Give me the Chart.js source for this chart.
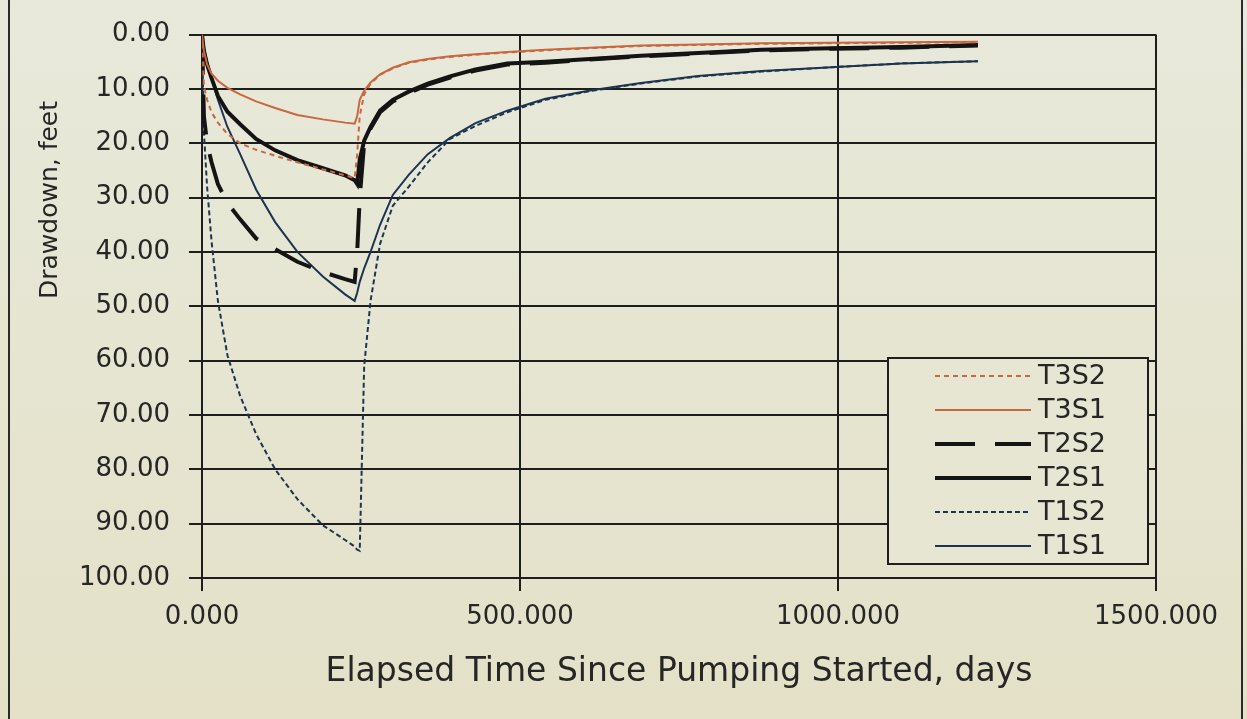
<!DOCTYPE html>
<html>
<head>
<meta charset="utf-8">
<script src="https://cdn.jsdelivr.net/npm/chart.js@4.4.1/dist/chart.umd.min.js"></script>
<style>
  html, body { margin: 0; padding: 0; background: #e5e5d3; }
  #wrap { width: 1247px; height: 719px; position: relative; }
</style>
</head>
<body>
<div id="wrap"><canvas id="drawdown"></canvas></div>
<script>
// elapsed time (days) shared by every series, pumping stops near day 240
const days = [0, 3, 8, 15, 25, 40, 60, 85, 115, 150, 190, 225, 240, 244, 248, 255,
  265, 280, 300, 325, 355, 390, 430, 480, 540, 610, 690, 780, 880, 990, 1100, 1220];

// drawdown, feet
const t3s2 = [0, 9.5, 12, 14.3, 16.2, 18.3, 20, 21.2, 22.3, 23.5, 24.8, 25.9, 26.4, 22, 15, 11,
  9, 7.4, 6.2, 5.2, 4.6, 4.1, 3.7, 3.3, 2.9, 2.5, 2.1, 1.9, 1.7, 1.6, 1.5, 1.4];
const t3s1 = [0, 3, 5.5, 7.2, 8.5, 9.8, 11, 12.3, 13.5, 14.8, 15.6, 16.2, 16.4, 15, 12, 10.3,
  8.8, 7.3, 6.1, 5.1, 4.5, 4, 3.6, 3.2, 2.8, 2.4, 2.0, 1.8, 1.6, 1.5, 1.4, 1.3];
const t2s2 = [0, 15, 20, 23.5, 27.5, 31, 34, 37.5, 39.5, 41.8, 43.7, 45, 45.5, 40, 30, 20,
  17.3, 14.3, 12.3, 10.8, 9.2, 7.9, 6.6, 5.5, 5.2, 4.6, 4.0, 3.5, 2.9, 2.6, 2.4, 2.0];
const t2s1 = [0, 3, 5.5, 8, 11.3, 14.2, 16.5, 19.2, 21.3, 23.1, 24.6, 25.9, 26.8, 27.5, 23, 19.5,
  17, 14, 12, 10.5, 9, 7.7, 6.4, 5.3, 5.0, 4.5, 3.9, 3.4, 2.8, 2.5, 2.3, 1.9];
const t1s2 = [0, 18, 28, 38, 49, 59, 66.5, 73.5, 80, 85.5, 90.3, 93, 94.2, 94.8, 95, 61,
  49, 38.5, 31.5, 28, 23.5, 19.2, 16.8, 14.3, 12, 10.4, 9, 7.7, 6.8, 6.0, 5.3, 4.9];
const t1s1 = [0, 2.2, 5, 8, 12, 17, 22, 28.5, 34.5, 40, 44.5, 47.8, 49, 47.5, 45.5, 43,
  40, 35, 29.5, 25.8, 22, 19, 16.3, 14, 11.8, 10.3, 8.9, 7.6, 6.7, 6.0, 5.3, 4.9];

const xTicks = [0, 500, 1000, 1500];
const yTicks = [0, 10, 20, 30, 40, 50, 60, 70, 80, 90, 100];

const ORANGE = "#c9673f";
const NAVY = "#1d3450";
const BLACK = "#141414";
const INK = "#262626";
const FONT = "DejaVu Sans";

function series(label, values, color, width, dash) {
  return {
    label,
    data: days.map((d, i) => ({ x: d, y: values[i] })),
    borderColor: color,
    borderWidth: width,
    borderDash: dash,
    pointRadius: 0,
    tension: 0,
    fill: false,
  };
}

// photo-ish background + outer frame
const backdrop = {
  id: "backdrop",
  beforeDraw(chart) {
    const { ctx, width, height } = chart;
    const g = ctx.createLinearGradient(0, 0, 0, height);
    g.addColorStop(0, "#e8e9db");
    g.addColorStop(1, "#e4e1c8");
    ctx.save();
    ctx.fillStyle = g;
    ctx.fillRect(0, 0, width, height);
    ctx.strokeStyle = "#2a2a2a";
    ctx.lineWidth = 2;
    ctx.beginPath();
    ctx.moveTo(9, 0); ctx.lineTo(9, height);
    ctx.moveTo(1242, 0); ctx.lineTo(1242, height);
    ctx.stroke();
    ctx.restore();
  }
};

// y title sits above the axis middle in the original, so it is drawn by hand
const yTitle = {
  id: "yTitle",
  afterDraw(chart) {
    const { ctx } = chart;
    ctx.save();
    ctx.translate(50, 200);
    ctx.rotate(-Math.PI / 2);
    ctx.font = `25px "${FONT}"`;
    ctx.fillStyle = INK;
    ctx.textAlign = "center";
    ctx.textBaseline = "middle";
    ctx.fillText("Drawdown, feet", 0, 0);
    ctx.restore();
  }
};

// boxed legend inside the plot, bottom right
const boxLegend = {
  id: "boxLegend",
  afterDraw(chart) {
    const { ctx } = chart;
    const left = 888, top = 358, right = 1148, bottom = 564;
    ctx.save();
    ctx.fillStyle = "#e7e6d2";
    ctx.fillRect(left, top, right - left, bottom - top);
    ctx.strokeStyle = "#1e1e1e";
    ctx.lineWidth = 2;
    ctx.strokeRect(left, top, right - left, bottom - top);
    ctx.font = `27px "${FONT}"`;
    ctx.textBaseline = "middle";
    ctx.textAlign = "left";
    chart.data.datasets.forEach((ds, i) => {
      const y = 376 + i * 34;
      ctx.strokeStyle = ds.borderColor;
      ctx.lineWidth = ds.borderWidth;
      ctx.setLineDash(ds.borderDash || []);
      ctx.beginPath();
      ctx.moveTo(935, y);
      ctx.lineTo(1031, y);
      ctx.stroke();
      ctx.setLineDash([]);
      ctx.fillStyle = INK;
      ctx.fillText(ds.label, 1038, y + 1);
    });
    ctx.restore();
  }
};

new Chart(document.getElementById("drawdown"), {
  type: "line",
  data: {
    datasets: [
      series("T3S2", t3s2, ORANGE, 2, [5, 4]),
      series("T3S1", t3s1, ORANGE, 2, []),
      series("T2S2", t2s2, BLACK, 4, [40, 20]),
      series("T2S1", t2s1, BLACK, 4, []),
      series("T1S2", t1s2, NAVY, 2, [5, 3]),
      series("T1S1", t1s1, NAVY, 2, []),
    ]
  },
  options: {
    responsive: true,
    maintainAspectRatio: false,
    animation: false,
    devicePixelRatio: 1,
    layout: { padding: { top: 14, right: 91, bottom: 0, left: 0 } },
    plugins: {
      legend: { display: false },
      tooltip: { enabled: false },
    },
    scales: {
      x: {
        type: "linear",
        min: 0,
        max: 1500,
        afterBuildTicks: (s) => { s.ticks = xTicks.map(v => ({ value: v })); },
        ticks: {
          padding: 11,
          maxRotation: 0,
          color: INK,
          font: { family: FONT, size: 26 },
          callback: (v) => Number(v).toFixed(3),
        },
        grid: { color: "#1e1e1e", lineWidth: 2, tickLength: 13 },
        border: { color: "#1e1e1e", width: 2 },
        title: {
          display: true,
          text: "Elapsed Time Since Pumping Started, days",
          color: INK,
          font: { family: FONT, size: 33 },
          padding: { top: 4, bottom: 27 },
        },
        afterFit: (s) => { s.height = 141; },
      },
      y: {
        type: "linear",
        reverse: true,
        min: 0,
        max: 100,
        afterBuildTicks: (s) => { s.ticks = yTicks.map(v => ({ value: v })); },
        ticks: {
          padding: 19,
          color: INK,
          font: { family: FONT, size: 26 },
          callback: (v) => Number(v).toFixed(2),
        },
        grid: { color: "#1e1e1e", lineWidth: 2, tickLength: 13 },
        border: { color: "#1e1e1e", width: 2 },
        afterFit: (s) => { s.width = 202; },
      }
    }
  },
  plugins: [backdrop, yTitle, boxLegend]
});
</script>
</body>
</html>
